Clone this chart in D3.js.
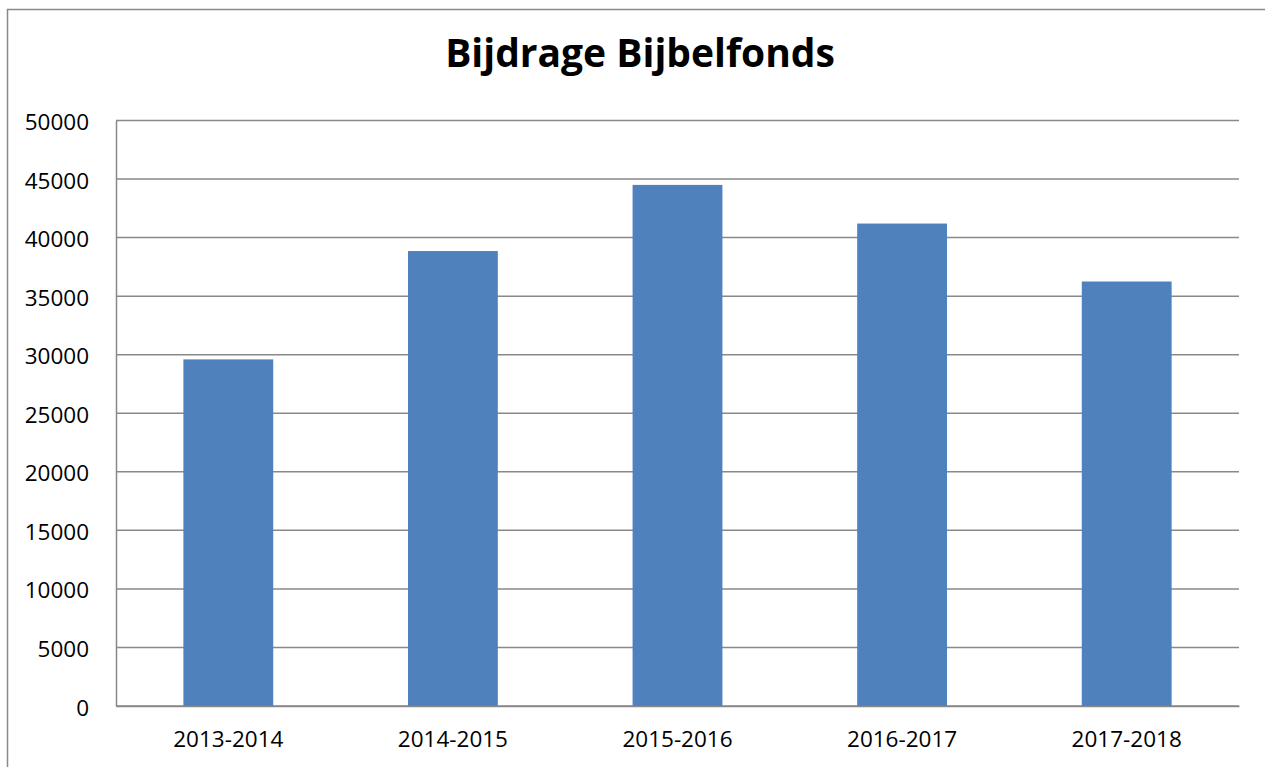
<!DOCTYPE html>
<html>
<head>
<meta charset="utf-8">
<script src="https://cdn.jsdelivr.net/npm/d3@7"></script>
<style>
  html, body { margin: 0; padding: 0; background: #fff; }
  svg { display: block; }
</style>
</head>
<body>
<svg id="chart" width="1265" height="767"></svg>
<script>
const title = "Bijdrage Bijbelfonds";
const categories = ["2013-2014", "2014-2015", "2015-2016", "2016-2017", "2017-2018"];
const values = [29600, 38850, 44500, 41200, 36250];
const yTicks = [0, 5000, 10000, 15000, 20000, 25000, 30000, 35000, 40000, 45000, 50000];

const svg = d3.select("#chart");
const W = 1265, H = 767;
const plot = { left: 116, right: 1239, top: 120.5, bottom: 706 };
const font = "'Open Sans', 'Noto Sans', sans-serif";
const gridColor = "#898989";

// outer chart border
svg.append("rect")
  .attr("x", 7.5).attr("y", 9.5)
  .attr("width", W + 10).attr("height", H + 10)
  .attr("fill", "#fff").attr("stroke", gridColor).attr("stroke-width", 1.5);

// title
svg.append("text")
  .attr("x", 640).attr("y", 67)
  .attr("text-anchor", "middle")
  .attr("font-family", font).attr("font-weight", "bold")
  .attr("font-size", 39).attr("fill", "#000")
  .text(title);

const y = d3.scaleLinear().domain([0, 50000]).range([plot.bottom, plot.top]);
const x = d3.scaleBand().domain(categories)
  .range([plot.left, plot.right]).paddingInner(0.6).paddingOuter(0.3);

// gridlines
svg.append("g").selectAll("line").data(yTicks).join("line")
  .attr("x1", plot.left).attr("x2", plot.right)
  .attr("y1", d => y(d)).attr("y2", d => y(d))
  .attr("stroke", gridColor).attr("stroke-width", 1.5);

// y axis
const yAxis = svg.append("g")
  .attr("transform", `translate(${plot.left},0)`)
  .call(d3.axisLeft(y).tickValues(yTicks).tickSize(0).tickPadding(27).tickFormat(d3.format("d")));
yAxis.select(".domain").attr("stroke", gridColor).attr("stroke-width", 1.5);
yAxis.selectAll("text")
  .attr("font-family", font).attr("font-size", 22.5).attr("fill", "#000")
  .attr("dy", "0.4em");

// bars
svg.append("g").selectAll("rect").data(values).join("rect")
  .attr("x", (d, i) => x(categories[i]))
  .attr("width", x.bandwidth())
  .attr("y", d => y(d))
  .attr("height", d => y(0) - y(d))
  .attr("fill", "#4F81BD");

// x axis
const xAxis = svg.append("g")
  .attr("transform", `translate(0,${plot.bottom})`)
  .call(d3.axisBottom(x).tickSize(0).tickPadding(25));
xAxis.select(".domain").attr("stroke", gridColor).attr("stroke-width", 1.5);
xAxis.selectAll("text")
  .attr("font-family", font).attr("font-size", 22.5).attr("fill", "#000");
</script>
</body>
</html>
